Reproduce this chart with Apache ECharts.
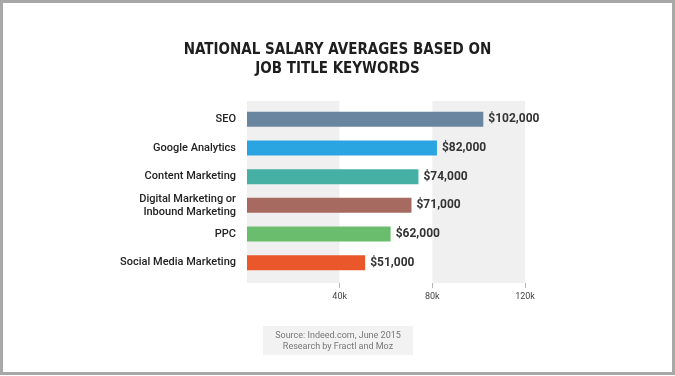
<!DOCTYPE html>
<html>
<head>
<meta charset="utf-8">
<script src="https://cdn.jsdelivr.net/npm/echarts@6/dist/echarts.min.js"></script>
<style>
  html, body { margin: 0; padding: 0; background: #ffffff; }
  #chart { width: 675px; height: 376px; }
</style>
</head>
<body>
<div id="chart"></div>
<script>
// job title keywords, top to bottom
const categories = [
  'SEO',
  'Google Analytics',
  'Content Marketing',
  'Digital Marketing or\nInbound Marketing',
  'PPC',
  'Social Media Marketing',
];
const salaries = [102000, 82000, 74000, 71000, 62000, 51000];
const barColors = ['#6985a0', '#2aa5e1', '#46b0a5', '#a66a60', '#6bbd6e', '#e9572b'];
const tickValues = [40000, 80000, 120000];
const tickLabels = ['40k', '80k', '120k'];
const titleLines = ['NATIONAL SALARY AVERAGES BASED ON', 'JOB TITLE KEYWORDS'];
const sourceLines = ['Source: Indeed.com, June 2015', 'Research by Fractl and Moz'];

const chart = echarts.init(document.getElementById('chart'));

const fmtMoney = (v) => '$' + v.toLocaleString('en-US');

const bandGrid = { left: 247, width: 278, top: 101, height: 182 };

chart.setOption({
  backgroundColor: '#ffffff',
  animation: false,
  title: {
    text: titleLines.join('\n'),
    left: 'center',
    top: 36,
    textStyle: {
      fontFamily: '"DejaVu Sans Condensed", "DejaVu Sans", sans-serif',
      fontWeight: 'bold',
      fontSize: 15,
      lineHeight: 19,
      color: '#1e1e1e',
    },
  },
  grid: [
    // bars
    { left: 247, width: 278, top: 105, height: 172 },
    // shaded bands
    { ...bandGrid },
    // ticks + tick labels
    { ...bandGrid },
  ],
  xAxis: [
    {
      type: 'value',
      gridIndex: 0,
      min: 0,
      max: 120000,
      interval: 40000,
      show: false,
    },
    {
      type: 'value',
      gridIndex: 1,
      min: 0,
      max: 120000,
      interval: 40000,
      axisLine: { show: false },
      axisTick: { show: false },
      axisLabel: { show: false },
      splitLine: { show: false },
      splitArea: {
        show: true,
        areaStyle: { color: ['#f0f0f0', '#ffffff'] },
      },
    },
    {
      type: 'value',
      gridIndex: 2,
      min: 0,
      max: 120000,
      interval: 40000,
      axisLine: { show: false },
      splitLine: { show: false },
      axisTick: {
        show: true,
        customValues: tickValues,
        length: 5,
        lineStyle: { color: '#b5b5b5' },
      },
      axisLabel: {
        customValues: tickValues,
        formatter: (v) => tickLabels[tickValues.indexOf(v)],
        margin: 9,
        fontFamily: 'Roboto, sans-serif',
        fontSize: 9,
        color: '#444',
      },
    },
  ],
  yAxis: [
    {
      type: 'category',
      gridIndex: 0,
      data: categories,
      inverse: true,
      axisLine: { show: false },
      axisTick: { show: false },
      axisLabel: {
        margin: 11,
        fontFamily: 'Roboto, sans-serif',
        fontSize: 11,
        fontWeight: 500,
        lineHeight: 13,
        color: '#222',
      },
    },
    { type: 'category', gridIndex: 1, data: categories, show: false },
    { type: 'category', gridIndex: 2, data: categories, show: false },
  ],
  series: [
    {
      type: 'bar',
      xAxisIndex: 0,
      yAxisIndex: 0,
      barWidth: 15,
      z: 3,
      data: salaries.map((v, i) => ({ value: v, itemStyle: { color: barColors[i] } })),
      label: {
        show: true,
        position: 'right',
        distance: 5,
        formatter: (p) => fmtMoney(p.value),
        fontFamily: 'Roboto, sans-serif',
        fontWeight: 'bold',
        fontSize: 12,
        color: '#333',
      },
    },
  ],
  graphic: [
    {
      type: 'rect',
      shape: { x: 263, y: 326, width: 150, height: 29 },
      style: { fill: '#f2f2f2' },
      silent: true,
    },
    {
      type: 'text',
      x: 338,
      y: 341,
      style: {
        text: sourceLines.join('\n'),
        align: 'center',
        verticalAlign: 'middle',
        fontFamily: 'Roboto, sans-serif',
        fontSize: 9,
        lineHeight: 11,
        fill: '#777',
      },
      silent: true,
    },
    {
      type: 'rect',
      shape: { x: 1.5, y: 1.5, width: 672, height: 372 },
      style: { fill: 'none', stroke: '#a8a8a8', lineWidth: 3 },
      silent: true,
    },
  ],
});
</script>
</body>
</html>
